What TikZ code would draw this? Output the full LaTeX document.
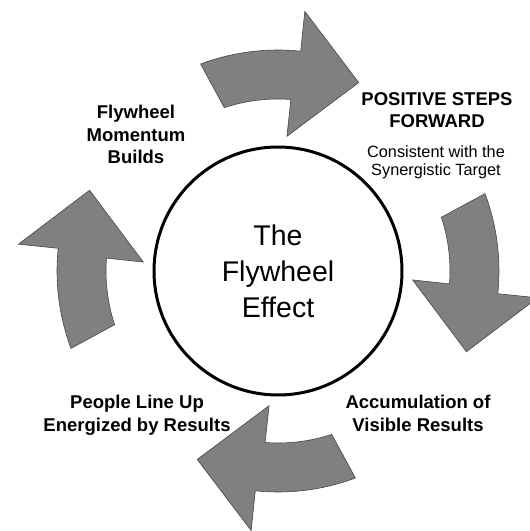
\documentclass[tikz,border=0pt]{standalone}
\usepackage{fontspec}
\setmainfont{Liberation Sans}
\definecolor{wheelgray}{RGB}{128,128,128}
\definecolor{wheeledge}{RGB}{70,70,70}

\begin{document}
\begin{tikzpicture}[x=1pt, y=1pt,
    wheelarrow/.style={fill=wheelgray, draw=wheeledge, line width=0.6pt},
    hub/.style={circle, draw, line width=3pt, minimum size=248, inner sep=0pt, align=center,
      font=\fontsize{28.5}{36}\selectfont},
    steplabel/.style={font=\bfseries\fontsize{18.5}{22.5}\selectfont, align=center, inner sep=0pt, anchor=north},
    subnote/.style={font=\fontsize{16.3}{18.5}\selectfont, align=center, inner sep=0pt, anchor=north}
    ]
  \useasboundingbox (0,0) rectangle (530,531);
  \coordinate (c) at (278,260);
  \foreach \r in {0,-90,-180,-270}
    \draw[wheelarrow, shift={(c)}, rotate=\r] (110.5:221) arc[start angle=110.5, end angle=84.1, radius=221]
      -- (84.1:261) -- (66.8:205) -- (86.2:135) -- (85.7:172)
      arc[start angle=85.7, end angle=108.2, radius=172] -- cycle;
  \node[hub] (hub) at (c) {The\\Flywheel\\Effect};
  \node[steplabel] (builds) at (136,426) {Flywheel\\Momentum\\Builds};
  \node[steplabel] (forward) at (437,439) {POSITIVE STEPS\\FORWARD};
  \node[subnote] (target) at (436,386) {Consistent with the\\Synergistic Target};
  \node[steplabel] (people) at (137,136) {People Line Up\\Energized by Results};
  \node[steplabel] (results) at (418,136) {Accumulation of\\Visible Results};
\end{tikzpicture}
\end{document}
